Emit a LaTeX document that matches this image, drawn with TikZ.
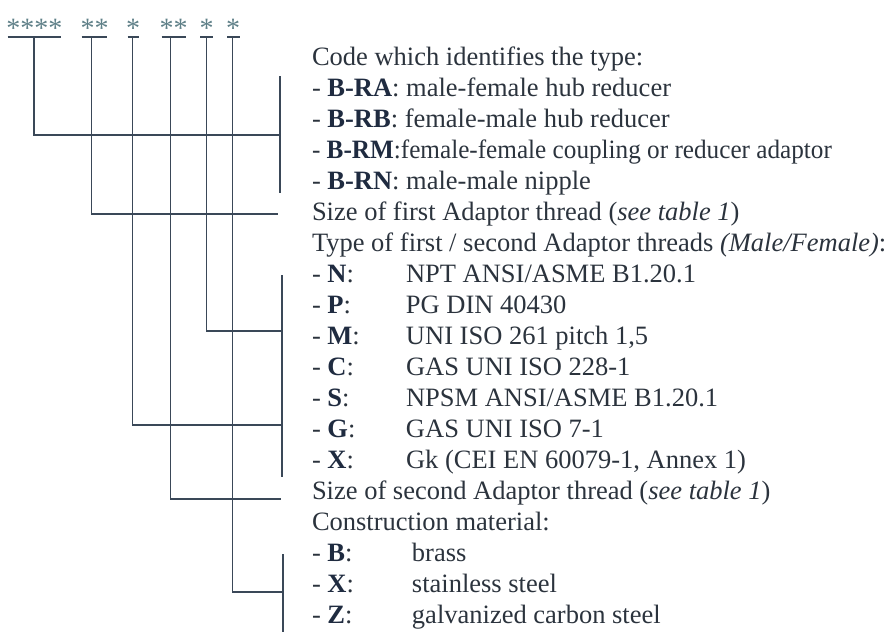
\documentclass[tikz,border=0pt]{standalone}
\usepackage{graphicx}
\usepackage{fontspec}
\setmainfont{Liberation Serif}
\definecolor{txt}{HTML}{2B333D}
\definecolor{bld}{HTML}{1F2B40}
\definecolor{linec}{HTML}{3A4858}
\definecolor{astc}{HTML}{5F8088}
\newcommand{\cd}[1]{\textbf{\color{bld}#1}}
\newcommand{\tabA}[2]{\hbox to 94pt{#1\hfil}#2}
\newcommand{\tabB}[2]{\hbox to 100pt{#1\hfil}#2}
\begin{document}
\begin{tikzpicture}[x=1pt,y=-1pt,
  lbl/.style={anchor=base west, inner sep=0pt, outer sep=0pt, text=txt,
    font=\fontsize{26.5}{31}\selectfont},
  ast/.style={anchor=base, inner sep=0pt, outer sep=0pt, text=astc,
    font=\fontsize{28}{31}\selectfont},
  wire/.style={draw=linec, line width=1.4pt}]
\useasboundingbox (0,0) rectangle (893,632);
% asterisk groups
\node[ast] (g1) at (34.3,37) {****};
\node[ast] (g2) at (94.5,37) {**};
\node[ast] (g3) at (133,37) {*};
\node[ast] (g4) at (173.5,37) {**};
\node[ast] (g5) at (206.5,37) {*};
\node[ast] (g6) at (233,37) {*};
% underlines
\coordinate (u1a) at (7.7,37);  \coordinate (u1b) at (60.7,37);
\coordinate (u2a) at (81.7,37); \coordinate (u2b) at (106.7,37);
\coordinate (u3a) at (127.7,37);\coordinate (u3b) at (139.3,37);
\coordinate (u4a) at (161.7,37);\coordinate (u4b) at (186,37);
\coordinate (u5a) at (200,37);  \coordinate (u5b) at (213.3,37);
\coordinate (u6a) at (227.3,37);\coordinate (u6b) at (240,37);
\foreach \i in {1,...,6} \draw[wire] (u\i a) -- (u\i b);
% taps
\coordinate (t1) at (34,37);
\coordinate (t2) at (91.7,37);
\coordinate (t3) at (132.3,37);
\coordinate (t4) at (170.7,37);
\coordinate (t5) at (206.7,37);
\coordinate (t6) at (232.3,37);
% brackets
\coordinate (b1a) at (280,76);  \coordinate (b1b) at (280,193);
\coordinate (b2a) at (282,275); \coordinate (b2b) at (282,477);
\coordinate (b3a) at (283,554); \coordinate (b3b) at (283,632);
\draw[wire] (b1a) -- (b1b);
\draw[wire] (b2a) -- (b2b);
\draw[wire] (b3a) -- (b3b);
% ends
\coordinate (e1) at (280,135);
\coordinate (e2) at (278,214);
\coordinate (e3) at (282,425);
\coordinate (e4) at (281,499);
\coordinate (e5) at (282,331);
\coordinate (e6) at (283,592);
\foreach \i in {1,...,6} \draw[wire] (t\i) |- (e\i);
% texts
\def\bx{312}
\node[lbl] (r0)  at (\bx,65)  {Code which identifies the type:};
\node[lbl] (r1)  at (\bx,96)  {- \cd{B-RA}: male-female hub reducer};
\node[lbl] (r2)  at (\bx,127) {- \cd{B-RB}: female-male hub reducer};
\node[lbl] (r3)  at (\bx,158) {\scalebox{0.951}[1]{- \cd{B-RM}:female-female coupling or reducer adaptor}};
\node[lbl] (r4)  at (\bx,189) {- \cd{B-RN}: male-male nipple};
\node[lbl] (r5)  at (\bx,220) {Size of first Adaptor thread (\textit{see table 1})};
\node[lbl] (r6)  at (\bx,251) {Type of first / second Adaptor threads \textit{(Male/Female)}:};
\node[lbl] (r7)  at (\bx,282) {\tabA{- \cd{N}:}{NPT ANSI/ASME B1.20.1}};
\node[lbl] (r8)  at (\bx,313) {\tabA{- \cd{P}:}{PG DIN 40430}};
\node[lbl] (r9)  at (\bx,344) {\tabA{- \cd{M}:}{UNI ISO 261 pitch 1,5}};
\node[lbl] (r10) at (\bx,375) {\tabA{- \cd{C}:}{GAS UNI ISO 228-1}};
\node[lbl] (r11) at (\bx,406) {\tabA{- \cd{S}:}{NPSM ANSI/ASME B1.20.1}};
\node[lbl] (r12) at (\bx,437) {\tabA{- \cd{G}:}{GAS UNI ISO 7-1}};
\node[lbl] (r13) at (\bx,468) {\tabA{- \cd{X}:}{Gk (CEI EN 60079-1, Annex 1)}};
\node[lbl] (r14) at (\bx,499) {Size of second Adaptor thread (\textit{see table 1})};
\node[lbl] (r15) at (\bx,530) {Construction material:};
\node[lbl] (r16) at (\bx,561) {\tabB{- \cd{B}:}{brass}};
\node[lbl] (r17) at (\bx,592) {\tabB{- \cd{X}:}{stainless steel}};
\node[lbl] (r18) at (\bx,623) {\tabB{- \cd{Z}:}{galvanized carbon steel}};
\end{tikzpicture}
\end{document}
